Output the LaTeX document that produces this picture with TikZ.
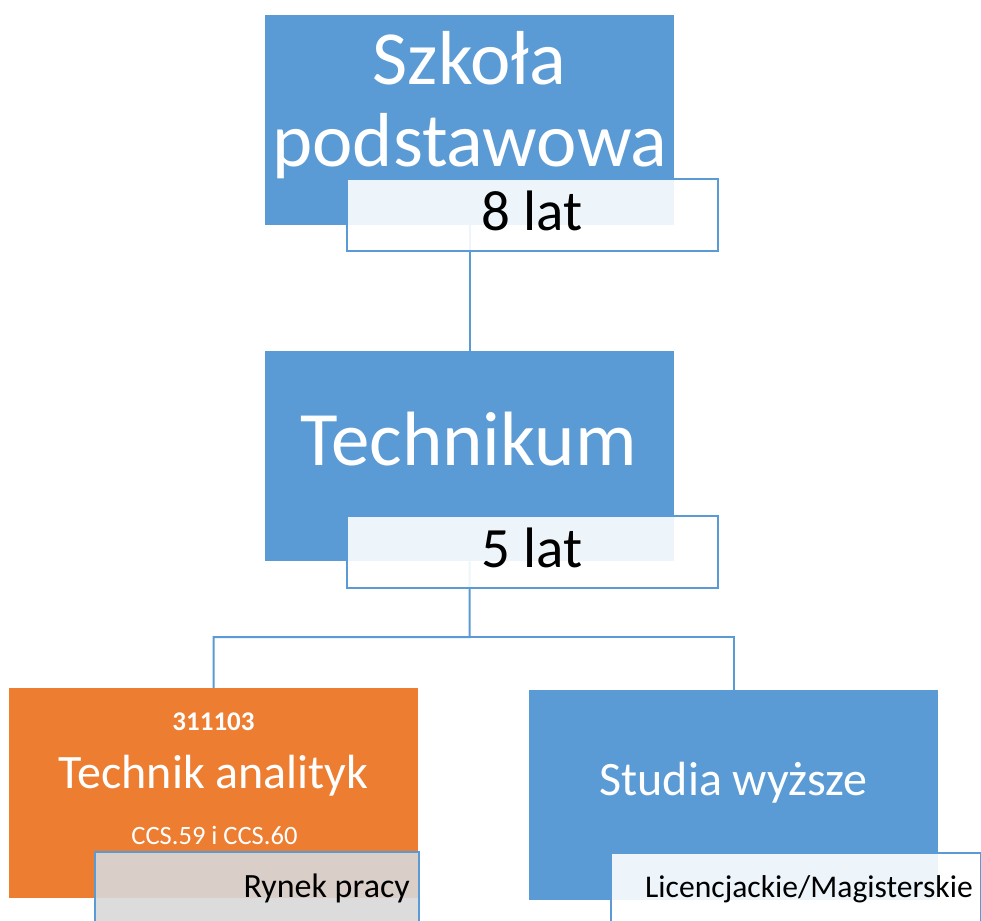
\documentclass[tikz,border=0pt]{standalone}
\usepackage{fontspec}
\setmainfont{Carlito}
\definecolor{sblue}{HTML}{5B9BD5}
\definecolor{sorange}{HTML}{ED7D31}
\definecolor{sgray}{HTML}{D9D9D9}
\newcommand{\fs}[2]{\fontsize{#1}{#2}\selectfont}
\tikzset{
  mainbox/.style={rectangle, draw=none, inner sep=0pt, anchor=north west},
  labelbox/.style={rectangle, draw=sblue, line width=2pt, fill opacity=0.9, inner sep=0pt, anchor=north west},
  conn/.style={draw=sblue, line width=2pt},
  wtext/.style={text=white, inner sep=0pt, anchor=base},
  btext/.style={text=black, inner sep=0pt, anchor=base}
}
\begin{document}
\begin{tikzpicture}[x=1pt,y=-1pt]
\clip (0,0) rectangle (981,920);
\fill[white] (0,0) rectangle (981,920);
% main boxes
\node[mainbox, fill=sblue, minimum width=409pt, minimum height=210pt] (sp) at (265,15) {};
\node[mainbox, fill=sblue, minimum width=409pt, minimum height=210pt] (tech) at (265,351) {};
\node[mainbox, fill=sorange, minimum width=409pt, minimum height=210pt] (ta) at (9,688) {};
\node[mainbox, fill=sblue, minimum width=409pt, minimum height=210pt] (sw) at (529,690) {};
% connectors
\draw[conn] (sp.south) -- (tech.north);
\coordinate (split) at (469.5,637);
\draw[conn] (tech.south) -- (split) -| (ta.north);
\draw[conn] (split) -| (sw.north);
% labels
\node[labelbox, fill=white, minimum width=371pt, minimum height=72pt] (l1) at (346,178) {};
\node[labelbox, fill=white, minimum width=371pt, minimum height=72pt] (l2) at (346,515) {};
\node[labelbox, fill=sgray, minimum width=324pt, minimum height=100pt] (l3) at (94,851) {};
\node[labelbox, fill=white, minimum width=370pt, minimum height=100pt] (l4) at (610,852) {};
% texts
\node[wtext] (t1a) at (469.5,85) {\fs{76.5}{86}Szkoła};
\node[wtext] (t1b) at (470,167) {\fs{76.5}{86}podstawowa};
\node[btext] (t1c) at (532,230) {\fs{57}{68}8 lat};
\node[wtext] (t2a) at (468.5,465) {\fs{77}{90}Technikum};
\node[btext] (t2c) at (532,567) {\fs{57}{68}5 lat};
\node[wtext] (t3a) at (213.5,730) {\fs{27}{32}\bfseries 311103};
\node[wtext] (t3b) at (213.5,788) {\fs{48}{58}Technik analityk};
\node[wtext] (t3c) at (214.5,844) {\fs{26.5}{32}CCS.59 i CCS.60};
\node[btext, anchor=base east] (t3d) at (410,897) {\fs{34}{40}Rynek pracy};
\node[btext, anchor=base east] (t4d) at (973,897) {\fs{31.6}{38}Licencjackie/Magisterskie};
\node[wtext] (t4a) at (733.5,795) {\fs{48}{58}Studia wyższe};
\end{tikzpicture}
\end{document}
